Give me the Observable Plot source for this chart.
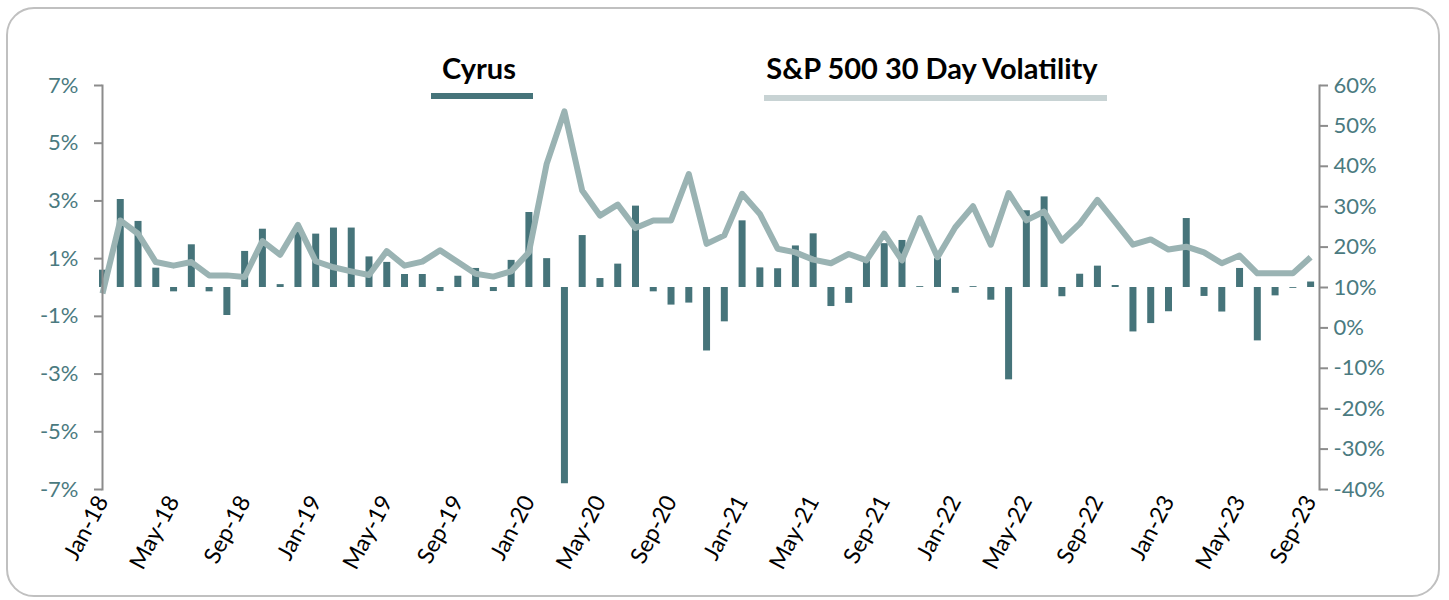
<!DOCTYPE html>
<html>
<head>
<meta charset="utf-8">
<script src="https://cdn.jsdelivr.net/npm/d3@7"></script>
<script src="https://cdn.jsdelivr.net/npm/@observablehq/plot@0.6"></script>
<style>
  html, body { margin: 0; padding: 0; background: #fff; }
  #wrap { position: relative; width: 1449px; height: 600px; overflow: hidden; font-family: Lato, "Open Sans", sans-serif; }
  #frame { position: absolute; left: 6px; top: 7px; width: 1434px; height: 590px; border: 2px solid #c0c0c0; border-radius: 28px; box-sizing: border-box; pointer-events: none; }
  #chart { position: absolute; left: 0; top: 0; }
  .lg-text { position: absolute; font-weight: bold; font-size: 29px; color: #000; white-space: nowrap; transform: translateX(-50%); }
  .lg-line { position: absolute; height: 6px; }
</style>
</head>
<body>
<div id="wrap">
  <div id="frame"></div>
  <div id="chart"></div>
  <div class="lg-text" style="left:479px; top:50px;">Cyrus</div>
  <div class="lg-line" style="left:431px; top:93px; width:102px; background:#46747a;"></div>
  <div class="lg-text" style="left:932px; top:50px;">S&amp;P 500 30 Day Volatility</div>
  <div class="lg-line" style="left:764px; top:95px; width:343px; background:#c8d3d4;"></div>
</div>
<script>
const months = [
  "Jan-18","Feb-18","Mar-18","Apr-18","May-18","Jun-18","Jul-18","Aug-18","Sep-18","Oct-18","Nov-18","Dec-18",
  "Jan-19","Feb-19","Mar-19","Apr-19","May-19","Jun-19","Jul-19","Aug-19","Sep-19","Oct-19","Nov-19","Dec-19",
  "Jan-20","Feb-20","Mar-20","Apr-20","May-20","Jun-20","Jul-20","Aug-20","Sep-20","Oct-20","Nov-20","Dec-20",
  "Jan-21","Feb-21","Mar-21","Apr-21","May-21","Jun-21","Jul-21","Aug-21","Sep-21","Oct-21","Nov-21","Dec-21",
  "Jan-22","Feb-22","Mar-22","Apr-22","May-22","Jun-22","Jul-22","Aug-22","Sep-22","Oct-22","Nov-22","Dec-22",
  "Jan-23","Feb-23","Mar-23","Apr-23","May-23","Jun-23","Jul-23","Aug-23","Sep-23"
];
// Cyrus monthly return, % (left axis)
const cyrus = [
  0.6, 3.05, 2.29, 0.67, -0.15, 1.48, -0.15, -0.97, 1.25, 2.02, 0.1, 2.0,
  1.85, 2.06, 2.06, 1.06, 0.87, 0.45, 0.45, -0.14, 0.39, 0.66, -0.14, 0.94,
  2.6, 1.0, -6.8, 1.8, 0.31, 0.81, 2.82, -0.15, -0.61, -0.54, -2.2, -1.19,
  2.31, 0.68, 0.65, 1.44, 1.86, -0.66, -0.55, 0.9, 1.52, 1.63, 0.03, 1.0,
  -0.2, 0.03, -0.44, -3.2, 2.66, 3.14, -0.32, 0.46, 0.74, 0.07, -1.54, -1.25,
  -0.84, 2.39, -0.31, -0.85, 0.66, -1.85, -0.29, -0.03, 0.19
];
// S&P 500 30 day volatility, % (right axis)
const volatility = [
  8.5, 26.6, 23.3, 16.3, 15.4, 16.3, 13.0, 13.0, 12.6, 21.5, 18.1, 25.5,
  16.5, 15.0, 14.0, 13.1, 19.0, 15.4, 16.4, 19.2, 16.3, 13.4, 12.7, 14.0,
  18.7, 40.6, 53.6, 34.0, 27.8, 30.5, 24.7, 26.6, 26.6, 38.1, 20.8, 22.9,
  33.2, 28.2, 19.6, 18.7, 16.9, 16.0, 18.3, 16.7, 23.3, 16.7, 27.2, 17.5,
  24.9, 30.1, 20.6, 33.4, 26.6, 28.8, 21.6, 25.8, 31.7, 26.2, 20.6, 21.9,
  19.4, 20.1, 18.7, 16.0, 17.9, 13.5, 13.5, 13.5, 17.5
];
const leftTicks = [-7, -5, -3, -1, 1, 3, 5, 7];
const rightTicks = [-40, -30, -20, -10, 0, 10, 20, 30, 40, 50, 60];
const xLabelEvery = 4;

// map right-axis domain [-40, 60] onto left-axis domain [-7, 7]
const rDomain = [-40, 60], lDomain = [-7, 7];
const toLeft = v => lDomain[0] + (v - rDomain[0]) * (lDomain[1] - lDomain[0]) / (rDomain[1] - rDomain[0]);
const toRight = v => rDomain[0] + (v - lDomain[0]) * (rDomain[1] - rDomain[0]) / (lDomain[1] - lDomain[0]);

const data = months.map((m, i) => ({i, month: m, cyrus: cyrus[i], vol: volatility[i]}));
const xTicks = months.map((m, i) => i).filter(i => i % xLabelEvery === 0);

const teal = "#46747a";
const lineColor = "#9ab3b3";
const axisGray = "#8c8c8c";
const labelTeal = "#4a7a80";

const chart = Plot.plot({
  width: 1449,
  height: 600,
  marginTop: 85,
  marginBottom: 111,
  marginLeft: 102,
  marginRight: 130,
  style: {fontFamily: "Lato, 'Open Sans', sans-serif", background: "transparent"},
  x: {type: "linear", domain: [0, months.length - 0.5]},
  y: {domain: lDomain},
  marks: [
    Plot.ruleX(data, {x: "i", y1: 0, y2: "cyrus", stroke: teal, strokeWidth: 7}),
    Plot.line(data, {x: "i", y: d => toLeft(d.vol), stroke: lineColor, strokeWidth: 6, strokeLinejoin: "round", strokeLinecap: "butt"}),
    Plot.frame({anchor: "left", stroke: axisGray, strokeWidth: 2}),
    Plot.frame({anchor: "right", stroke: axisGray, strokeWidth: 2}),
    Plot.axisY({anchor: "left", ticks: leftTicks, tickSize: 8, tickPadding: 16, tickFormat: d => d + "%",
      stroke: axisGray, strokeWidth: 2, fill: labelTeal, fontSize: 22, label: null}),
    Plot.axisY({anchor: "right", ticks: rightTicks.map(toLeft), tickSize: 8, tickPadding: 6,
      tickFormat: d => Math.round(toRight(d)) + "%", stroke: axisGray, strokeWidth: 2, fill: labelTeal, fontSize: 22, label: null}),
    Plot.axisX({ticks: xTicks, tickFormat: i => months[i], tickSize: 0, tickPadding: 8, tickRotate: -62,
      fill: "#000", fontSize: 23, label: null})
  ]
});
document.getElementById("chart").appendChild(chart);
</script>
</body>
</html>
